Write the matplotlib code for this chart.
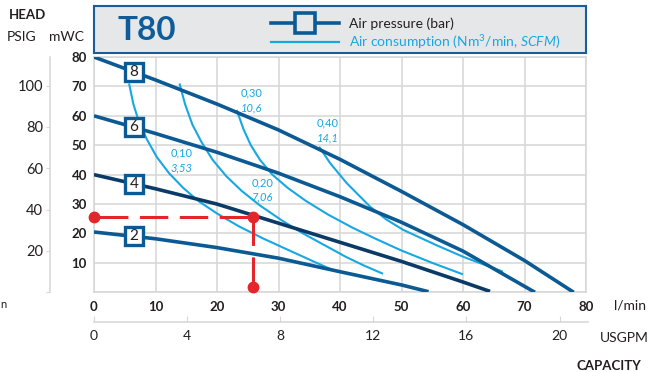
import numpy as np
import matplotlib.pyplot as plt

plt.rcParams['font.family'] = ['Lato', 'DejaVu Sans']
plt.rcParams['mathtext.fontset'] = 'custom'
plt.rcParams['mathtext.rm'] = 'Lato'
plt.rcParams['mathtext.it'] = 'Lato:italic'

# pressure curves: head (mWC) against capacity (l/min)
flow_2 = [0, 10, 20, 30, 40, 50, 54.4]
head_2 = [20.5, 18.2, 15.2, 11.6, 7, 2.5, 0.2]
flow_4 = [0, 10, 20, 30, 40, 50, 60, 64.4]
head_4 = [40, 35.2, 30, 23.5, 17, 10.5, 3.5, 0.3]
flow_6 = [0, 10, 20, 30, 40, 50, 60, 71.7]
head_6 = [60, 54, 47.6, 40.5, 32.5, 23.8, 14, 0]
flow_8 = [0, 10, 20, 30, 40, 50, 60, 70, 78]
head_8 = [80, 72.2, 64, 55.2, 45.2, 34.3, 23, 10.8, 0]

# air consumption curves
c10_flow = [5.7, 6.4, 7.3, 8.6, 10.2, 12.2, 14.5, 17, 20, 23.5, 27.5, 32, 36, 39.2]
c10_head = [71, 64, 58, 52, 46, 40.5, 35.5, 31, 26.8, 22.5, 18.3, 14, 10.2, 7.2]
c20_flow = [13.9, 14.8, 16, 17.5, 19.3, 21.5, 24, 27, 30.5, 34, 37.5, 41, 44, 47]
c20_head = [71, 64, 57, 51, 45, 39.5, 34.5, 29.5, 24.5, 20, 16, 12, 9, 6.3]
c30_flow = [23.2, 24.3, 25.5, 27, 29, 31.5, 34.5, 38, 42, 46, 50, 55, 60]
c30_head = [62, 55.5, 50, 45, 40, 35.5, 31, 26.5, 22, 18, 14.2, 10, 6.1]
c40_flow = [36.6, 38.4, 41.1, 44.9, 47.5, 50.3, 55.7, 60, 66.5]
c40_head = [49.5, 43.9, 37.1, 29.1, 24.8, 21.2, 16, 12.1, 7]

cons_labels = [('0,10', '3,53'), ('0,20', '7,06'), ('0,30', '10,6'), ('0,40', '14,1')]
cons_label_pos = [(14.2, 47.3), (27.4, 37.3), (25.6, 67.7), (38, 57.6)]

# example operating point
op_flow = 25.8
op_head = 25.5
op_bottom = 1.9

DARK = '#0c5a94'
NAVY = '#0b3a66'
LIGHT = '#17a8e1'
RED = '#e3262b'
GRID = '#d6d6d6'
TXT = '#231f20'

W, H = 654, 372
fig = plt.figure(figsize=(W / 100, H / 100), dpi=100)


def fx(px):
    return px / W


def fy(py):
    return 1 - py / H


ax = fig.add_axes([fx(94), fy(292.3), (586 - 94) / W, (292.3 - 57) / H])
ax.set_xlim(0, 80)
ax.set_ylim(0, 80)
ax.set_xticks(range(0, 81, 10))
ax.set_yticks(range(0, 81, 10))
ax.set_xticklabels([str(v) for v in range(0, 81, 10)], fontweight='bold')
ax.set_yticklabels([''] + [str(v) for v in range(10, 81, 10)], fontweight='bold')
ax.tick_params(length=0, labelsize=9.5, labelcolor=TXT)
ax.tick_params(axis='x', pad=6)
ax.tick_params(axis='y', pad=5)
ax.grid(color=GRID, lw=1.1)
for s in ax.spines.values():
    s.set_color(GRID)
    s.set_linewidth(1.1)

for fl, hd in [(c10_flow, c10_head), (c20_flow, c20_head),
               (c30_flow, c30_head), (c40_flow, c40_head)]:
    ax.plot(fl, hd, color=LIGHT, lw=1.5, solid_capstyle='butt', zorder=3)

for (top, bot), (x, y) in zip(cons_labels, cons_label_pos):
    ax.text(x, y, top, color=LIGHT, fontsize=8, ha='center', va='center', zorder=4)
    ax.text(x, y - 5, bot, color=LIGHT, fontsize=8, ha='center', va='center',
            style='italic', zorder=4)

pressures = [(2, flow_2, head_2, DARK), (4, flow_4, head_4, NAVY),
             (6, flow_6, head_6, DARK), (8, flow_8, head_8, DARK)]
for bar, fl, hd, col in pressures:
    ax.plot(fl, hd, color=col, lw=2.6, solid_capstyle='butt', zorder=5)
    ly = np.interp(6.5, fl, hd)
    ax.plot(6.5, ly, marker='s', ms=13.4, mfc='white', mec=DARK, mew=2.4, zorder=7)
    ax.text(6.5, ly, str(bar), fontsize=11, ha='center', va='center', color=TXT, zorder=8)

# operating point guide lines
ax.plot([op_flow, 0], [op_head, op_head], color=RED, lw=2.2,
        linestyle=(11.3, (9.3, 3.76)), zorder=9, clip_on=False)
ax.plot([op_flow, op_flow], [op_head, op_bottom], color=RED, lw=2.2,
        linestyle=(0, (9.3, 3.76)), zorder=9)
ax.plot([0, op_flow, op_flow], [op_head, op_head, op_bottom], 'o', color=RED,
        ms=7.5, zorder=10, clip_on=False)

# PSIG scale
psi = fig.add_axes([fx(50), fy(292.3), 0.0001, (292.3 - 57) / H])
psi.set_ylim(0, 80 / 0.70307)
psi.set_yticks(range(0, 101, 20))
psi.set_yticklabels([''] + [str(v) for v in range(20, 101, 20)])
psi.set_xticks([])
psi.patch.set_visible(False)
for k in ['right', 'top', 'bottom']:
    psi.spines[k].set_visible(False)
psi.spines['left'].set_color(GRID)
psi.spines['left'].set_linewidth(1.1)
psi.tick_params(axis='y', length=3, color=GRID, labelsize=10.5, labelcolor=TXT, pad=2)

# USGPM scale
gpm = fig.add_axes([fx(94), fy(322), (588 - 94) / W, 0.0001])
gpm.set_xlim(0, 80 / 3.78541 * (588 - 94) / (586 - 94))
gpm.set_xticks(range(0, 21, 4))
gpm.set_yticks([])
gpm.patch.set_visible(False)
for k in ['left', 'right', 'top']:
    gpm.spines[k].set_visible(False)
gpm.spines['bottom'].set_color(GRID)
gpm.spines['bottom'].set_linewidth(1.1)
gpm.tick_params(axis='x', direction='in', length=4, color=GRID, labelsize=10,
                labelcolor=TXT, pad=6)

# header box with title and legend
hdr = fig.add_axes([fx(94), fy(53), (586 - 94) / W, (53 - 6) / H])
hdr.set_xlim(94, 586)
hdr.set_ylim(53, 6)
hdr.set_facecolor('#e6e7e8')
hdr.set_xticks([])
hdr.set_yticks([])
for s in hdr.spines.values():
    s.set_color('#1a5e99')
    s.set_linewidth(1.5)
hdr.text(147, 30, 'T80', fontsize=24, fontweight='bold', color='#0f5c9a',
         ha='center', va='center')
hdr.plot([270.7, 339], [23.4, 23.4], color=DARK, lw=2.6)
hdr.plot([305], [23.4], marker='s', ms=14, mfc='#e6e7e8', mec=DARK, mew=2.6)
hdr.plot([270.7, 339], [42, 42], color=LIGHT, lw=1.6)
hdr.text(349, 23.4, 'Air pressure (bar)', fontsize=10, color=TXT, va='center')
hdr.text(349, 42, r'Air consumption (Nm$^3$/min, $\mathit{SCFM}$)', fontsize=10,
         color=LIGHT, va='center')

# axis titles
fig.text(fx(27), fy(15), 'HEAD', fontsize=9.5, fontweight='bold', color=TXT,
         ha='center', va='center')
fig.text(fx(22), fy(37), 'PSIG', fontsize=10, color=TXT, ha='center', va='center')
fig.text(fx(66), fy(37), 'mWC', fontsize=10, color=TXT, ha='center', va='center')
fig.text(fx(630), fy(306), 'l/min', fontsize=10, color=TXT, ha='center', va='center')
fig.text(fx(624), fy(338), 'USGPM', fontsize=10, color=TXT, ha='center', va='center')
fig.text(fx(609), fy(366), 'CAPACITY', fontsize=9.5, fontweight='bold', color=TXT,
         ha='center', va='center')
fig.text(fx(0.5), fy(304), 'n', fontsize=8, color=TXT, ha='left', va='center')

fig.savefig('out.png', dpi=100)
